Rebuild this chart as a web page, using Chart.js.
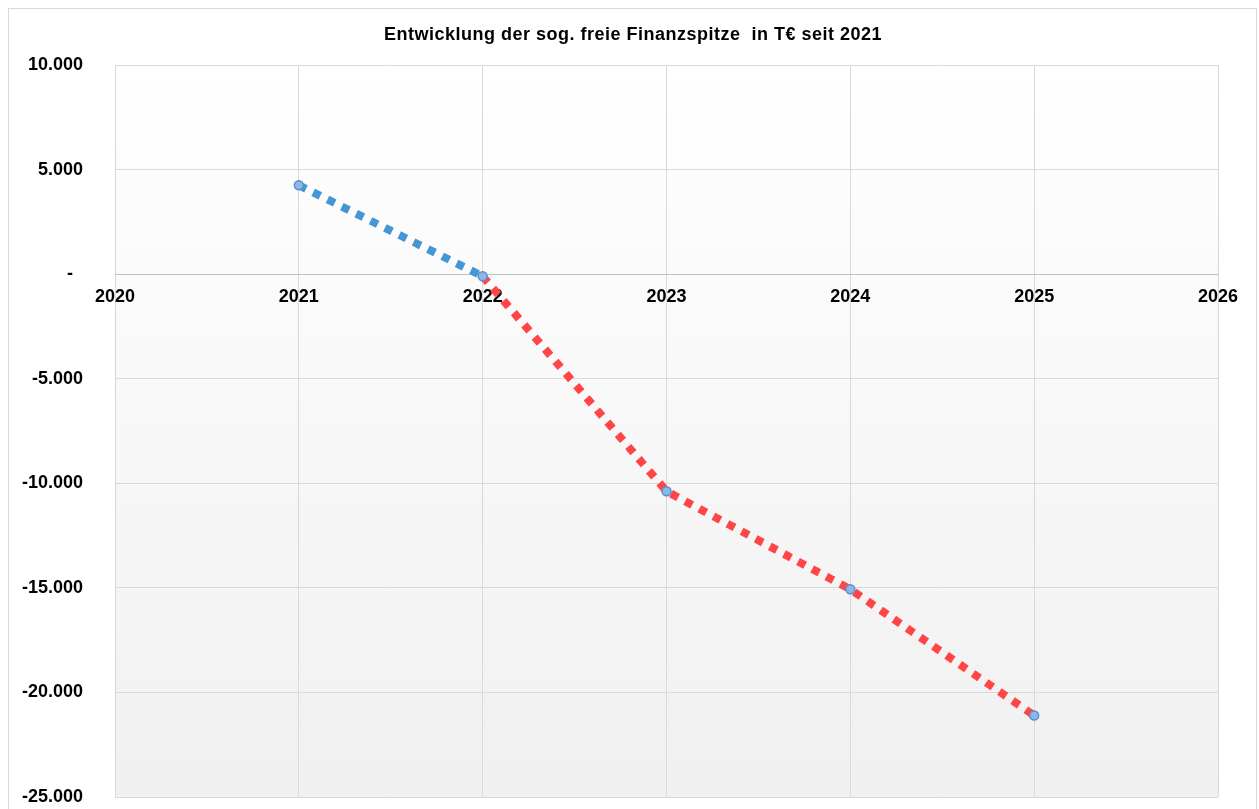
<!DOCTYPE html>
<html>
<head>
<meta charset="utf-8">
<script src="https://cdn.jsdelivr.net/npm/chart.js@4"></script>
<style>
html,body{margin:0;padding:0;background:#fff;}
#wrap{position:relative;width:1259px;height:809px;}
</style>
</head>
<body>
<div id="wrap"><canvas id="c" width="1259" height="809"></canvas></div>
<script>
const titleText = "Entwicklung der sog. freie Finanzspitze  in T\u20AC seit 2021";
const years = [2021, 2022, 2023, 2024, 2025];
const values = [4250, -100, -10380, -15070, -21100];
const xTicks = [2020, 2021, 2022, 2023, 2024, 2025, 2026];
const yTicks = [10000, 5000, 0, -5000, -10000, -15000, -20000, -25000];

const blue = '#4596d2';
const red = '#ff4545';
const FONT = '"Liberation Sans", Arial, sans-serif';

function fmt(v){
  if (v === 0) return '-  ';
  const s = Math.abs(v).toString().replace(/\B(?=(\d{3})+(?!\d))/g, '.');
  return (v < 0 ? '-' : '') + s;
}

const framePlugin = {
  id: 'frame',
  beforeDraw(chart){
    const ctx = chart.ctx, a = chart.chartArea;
    ctx.save();
    ctx.fillStyle = '#fff';
    ctx.fillRect(0,0,chart.width,chart.height);
    ctx.strokeStyle = '#d9d9d9';
    ctx.lineWidth = 1;
    ctx.strokeRect(8.5, 8.5, 1248, 820);
    const g = ctx.createLinearGradient(0, a.top, 0, a.bottom);
    g.addColorStop(0, '#ffffff');
    g.addColorStop(1, '#f0f0f0');
    ctx.fillStyle = g;
    ctx.fillRect(a.left, a.top, a.right - a.left, a.bottom - a.top);
    ctx.fillStyle = '#000';
    ctx.font = 'bold 18px ' + FONT;
    try { ctx.letterSpacing = '0.5px'; } catch(e) {}
    ctx.textAlign = 'center';
    ctx.textBaseline = 'middle';
    ctx.fillText(titleText, 633, 35);
    ctx.restore();
  }
};

new Chart(document.getElementById('c'), {
  type: 'line',
  data: {
    datasets: [{
      data: years.map((y,i)=>({x:y, y:values[i]})),
      borderWidth: 8,
      borderDash: [8,8],
      borderCapStyle: 'butt',
      borderColor: red,
      segment: {
        borderColor: ctx => ctx.p0DataIndex === 0 ? blue : red
      },
      pointRadius: 4.5,
      pointBackgroundColor: '#8fb6e4',
      pointBorderColor: '#5a8fd0',
      pointBorderWidth: 1.5,
      tension: 0,
      fill: false
    }]
  },
  options: {
    responsive: false,
    animation: false,
    layout: { padding: { top: 65, right: 41, bottom: 12, left: 0 } },
    plugins: { legend: { display: false }, tooltip: { enabled: false }, title: { display: false } },
    scales: {
      x: {
        type: 'linear',
        min: 2020, max: 2026,
        position: { y: 0 },
        afterBuildTicks: s => { s.ticks = xTicks.map(v => ({value: v})); },
        ticks: {
          color: '#000',
          font: { family: FONT, size: 18, weight: 'bold' },
          padding: 12,
          maxRotation: 0,
          autoSkip: false,
          callback: v => String(v)
        },
        grid: { color: '#d9d9d9', lineWidth: 1, drawTicks: false },
        border: { display: false }
      },
      y: {
        min: -25000, max: 10000,
        afterBuildTicks: s => { s.ticks = yTicks.map(v => ({value: v})); },
        afterFit: s => { s.width = 115; s.paddingTop = 0; s.paddingBottom = 0; },
        ticks: {
          color: '#000',
          font: { family: FONT, size: 18, weight: 'bold' },
          padding: 32,
          callback: v => fmt(v)
        },
        grid: {
          color: ctx => (ctx.tick && ctx.tick.value === 0) ? '#bfbfbf' : '#d9d9d9',
          lineWidth: 1,
          drawTicks: false
        },
        border: { display: false }
      }
    }
  },
  plugins: [framePlugin]
});
</script>
</body>
</html>
